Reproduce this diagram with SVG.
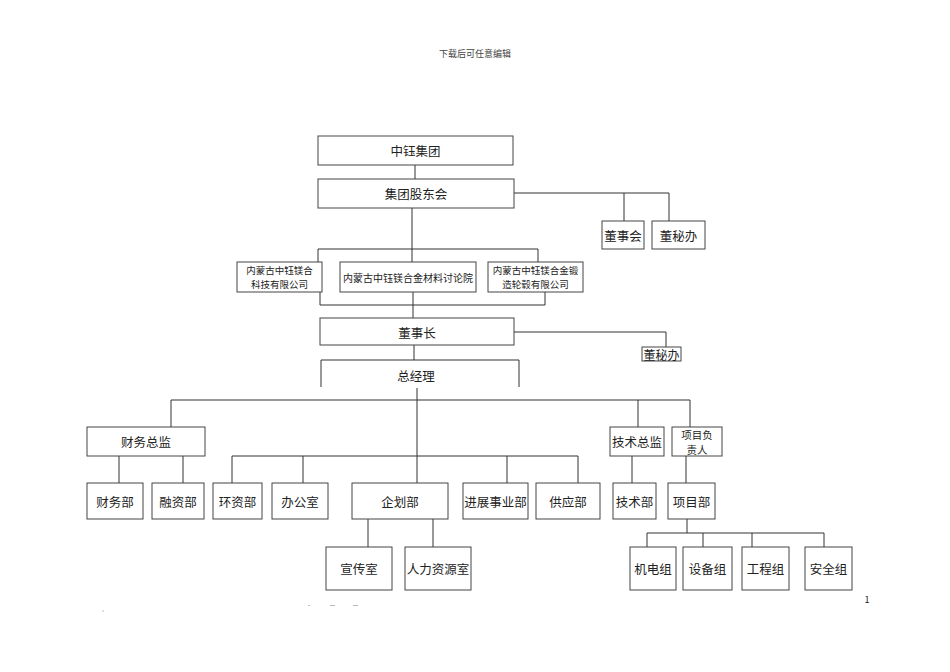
<svg xmlns="http://www.w3.org/2000/svg" width="950" height="672" viewBox="0 0 950 672">
<style>
.b{fill:#fff;stroke:#444;stroke-width:1}
.t{font-family:"Noto Sans CJK SC","Liberation Sans",sans-serif;font-size:12.5px;fill:#222;text-anchor:middle;dominant-baseline:central}
.s{font-size:10px}
.s2{font-size:9.5px}
.c{fill:none;stroke:#333;stroke-width:1}
</style>
<rect width="950" height="672" fill="#fff"/>
<text class="t" x="475" y="53" style="font-size:9px;fill:#444">下载后可任意编辑</text>
<g id="connectors" class="c">
<path d="M415,165V179"/>
<path d="M514,193H669M624,193V221M669,193V221"/>
<path d="M412,208V262M318,249H538M318,249V262M538,249V262"/>
<path d="M320,292V305H545V292M413,292V318"/>
<path d="M514,332H666V347"/>
<path d="M414,345V360"/>
<path d="M417,388V483"/>
<path d="M171,400H690M171,400V427M638,400V427M690,400V427"/>
<path d="M119,456V483M183,456V483"/>
<path d="M232,456H578M232,456V483M303,456V483M507,456V483M578,456V483"/>
<path d="M632,456V483M686,456V483"/>
<path d="M368,519V547M433,519V547"/>
<path d="M687,519V533M647,533H824M647,533V547M703,533V547M752,533V547M824,533V547"/>
</g>
<g id="n1"><rect class="b" x="318" y="136" width="195" height="29"/><text class="t" x="415.5" y="150.5">中钰集团</text></g>
<g id="n2"><rect class="b" x="318" y="179" width="196" height="29"/><text class="t" x="416" y="193.5">集团股东会</text></g>
<g id="n3"><rect class="b" x="602" y="221" width="42" height="28"/><text class="t" x="623" y="235">董事会</text></g>
<g id="n4"><rect class="b" x="652" y="221" width="53" height="28"/><text class="t" x="678.5" y="235">董秘办</text></g>
<g id="n5"><rect class="b" x="237" y="262" width="85" height="30"/><text class="t s2" x="279.5" y="270">内蒙古中钰镁合</text><text class="t s2" x="279.5" y="284">科技有限公司</text></g>
<g id="n6"><rect class="b" x="340" y="262" width="136" height="30"/><text class="t s" x="408" y="277">内蒙古中钰镁合金材料讨论院</text></g>
<g id="n7"><rect class="b" x="488" y="262" width="95" height="30"/><text class="t s2" x="535.5" y="270">内蒙古中钰镁合金锻</text><text class="t s2" x="535.5" y="284">造轮毂有限公司</text></g>
<g id="n8"><rect class="b" x="320" y="318" width="194" height="27"/><text class="t" x="417" y="332">董事长</text></g>
<g id="n9"><rect class="b" x="642" y="347" width="39" height="14"/><text class="t" x="661.5" y="354" style="font-size:12px">董秘办</text></g>
<g id="n10"><path class="c" d="M321,387V360H519V387"/><text class="t" x="416" y="375.5">总经理</text></g>
<g id="n11"><rect class="b" x="87" y="427" width="118" height="29"/><text class="t" x="146" y="441.5">财务总监</text></g>
<g id="n12"><rect class="b" x="87" y="483" width="56" height="36"/><text class="t" x="115" y="501">财务部</text></g>
<g id="n13"><rect class="b" x="152" y="483" width="52" height="36"/><text class="t" x="178" y="501">融资部</text></g>
<g id="n14"><rect class="b" x="213" y="483" width="49" height="36"/><text class="t" x="237.5" y="501">环资部</text></g>
<g id="n15"><rect class="b" x="272" y="483" width="56" height="36"/><text class="t" x="300" y="501">办公室</text></g>
<g id="n16"><rect class="b" x="352" y="483" width="96" height="36"/><text class="t" x="400" y="501">企划部</text></g>
<g id="n17"><rect class="b" x="463" y="483" width="65" height="36"/><text class="t" x="495.5" y="501">进展事业部</text></g>
<g id="n18"><rect class="b" x="536" y="483" width="64" height="36"/><text class="t" x="568" y="501">供应部</text></g>
<g id="n19"><rect class="b" x="610" y="427" width="54" height="29"/><text class="t" x="637" y="441.5">技术总监</text></g>
<g id="n20"><rect class="b" x="672" y="427" width="50" height="29"/><text class="t" x="697" y="434" style="font-size:10.5px">项目负</text><text class="t" x="697" y="449.5" style="font-size:10.5px">责人</text></g>
<g id="n21"><rect class="b" x="613" y="483" width="43" height="36"/><text class="t" x="634.5" y="501">技术部</text></g>
<g id="n22"><rect class="b" x="668" y="483" width="47" height="36"/><text class="t" x="691.5" y="501">项目部</text></g>
<g id="n23"><rect class="b" x="326" y="547" width="66" height="43"/><text class="t" x="359" y="568.5">宣传室</text></g>
<g id="n24"><rect class="b" x="405" y="547" width="66" height="43"/><text class="t" x="438" y="568.5">人力资源室</text></g>
<g id="n25"><rect class="b" x="630" y="547" width="46" height="43"/><text class="t" x="653" y="568.5">机电组</text></g>
<g id="n26"><rect class="b" x="683" y="547" width="49" height="43"/><text class="t" x="707.5" y="568.5">设备组</text></g>
<g id="n27"><rect class="b" x="742" y="547" width="47" height="43"/><text class="t" x="765.5" y="568.5">工程组</text></g>
<g id="n28"><rect class="b" x="805" y="547" width="47" height="43"/><text class="t" x="828.5" y="568.5">安全组</text></g>
<text class="t" x="867" y="599" style="font-size:9px">1</text>
<g stroke="#bbb" stroke-width="1"><path d="M308,605.5H310M330,605.5H335M353,605.5H358M103,610V612"/></g>
</svg>
